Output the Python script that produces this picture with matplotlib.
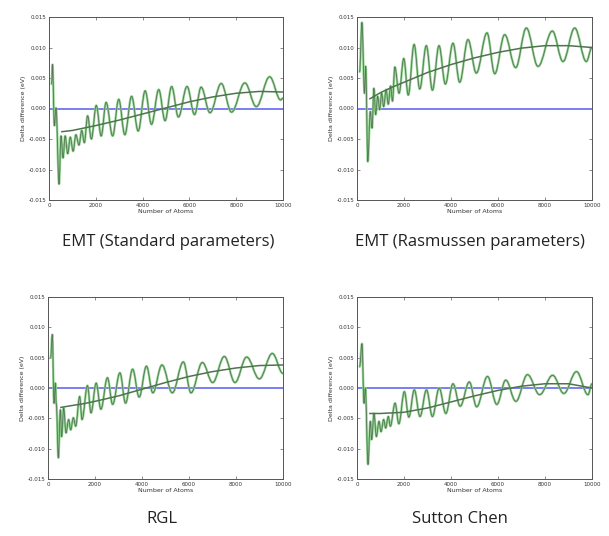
import matplotlib
matplotlib.use("Agg")
import matplotlib.pyplot as plt
from matplotlib.path import Path
from matplotlib.patches import PathPatch

plt.rcParams['axes.unicode_minus'] = False

# ---------------- data (turning points of each curve) ----------------
titles = ["EMT (Standard parameters)", "EMT (Rasmussen parameters)", "RGL", "Sutton Chen"]

x_ticks = [0, 2000, 4000, 6000, 8000, 10000]
y_ticks = [-0.015, -0.010, -0.005, 0.000, 0.005, 0.010, 0.015]

emt_std_x = [110, 150, 230, 300, 430, 513, 600, 690, 800, 910, 1030, 1150, 1280, 1400, 1510,
             1650, 1810, 2020, 2230, 2440, 2720, 2980, 3240, 3530, 3810, 4110, 4380, 4690,
             4960, 5240, 5530, 5900, 6220, 6500, 6880, 7360, 7800, 8370, 8860, 9430, 9900, 10000]
emt_std_y = [0.0040, 0.0072, -0.0028, 0.0001, -0.0124, -0.0045, -0.0081, -0.0045, -0.0074,
             -0.0047, -0.0070, -0.0043, -0.0060, -0.0036, -0.0056, -0.0012, -0.0050, 0.0005,
             -0.0045, 0.0010, -0.0045, 0.0015, -0.0043, 0.0020, -0.0037, 0.0029, -0.0026,
             0.0031, -0.0020, 0.0036, -0.0014, 0.0036, -0.0010, 0.0035, -0.0007, 0.0041,
             -0.0006, 0.0042, 0.0003, 0.0052, 0.0014, 0.0017]

emt_ras_x = [110, 210, 320, 370, 460, 565, 640, 720, 795, 880, 965, 1050, 1135, 1240, 1330,
             1430, 1510, 1610, 1790, 1990, 2180, 2430, 2670, 2950, 3210, 3490, 3760, 4085,
             4370, 4723, 5078, 5532, 5861, 6284, 6752, 7206, 7702, 8312, 8766, 9263, 9759, 10000]
emt_ras_y = [0.0060, 0.0141, 0.0025, 0.0069, -0.0087, -0.0005, -0.0032, 0.0033, -0.0010,
             0.0020, -0.0002, 0.0025, 0.0003, 0.0031, 0.0007, 0.0037, 0.0012, 0.0068, 0.0025,
             0.0082, 0.0022, 0.0105, 0.0032, 0.0103, 0.0030, 0.0103, 0.0040, 0.0107, 0.0043,
             0.0113, 0.0058, 0.0124, 0.0057, 0.0121, 0.0067, 0.0132, 0.0069, 0.0127, 0.0077,
             0.0132, 0.0077, 0.0100]

rgl_x = [110, 184, 255, 312, 355, 440, 525, 582, 667, 766, 879, 965, 1078, 1177, 1348, 1447,
         1680, 1830, 2050, 2250, 2530, 2750, 3060, 3300, 3600, 3880, 4190, 4460, 4850, 5290,
         5759, 6085, 6568, 7007, 7504, 7957, 8454, 8993, 9546, 10000]
rgl_y = [0.0050, 0.0088, -0.0025, 0.0008, -0.0027, -0.0115, -0.0036, -0.0080, -0.0033,
         -0.0074, -0.0052, -0.0069, -0.0049, -0.0063, -0.0014, -0.0052, 0.0004, -0.0041,
         0.0008, -0.0035, 0.0017, -0.0027, 0.0025, -0.0025, 0.0031, -0.0015, 0.0036,
         -0.0008, 0.0038, -0.0008, 0.0043, -0.0008, 0.0042, 0.0009, 0.0052, 0.0009,
         0.0051, 0.0015, 0.0057, 0.0024]

sc_x = [110, 213, 298, 355, 468, 567, 624, 723, 823, 936, 1021, 1135, 1220, 1333, 1418,
        1620, 1780, 2015, 2205, 2440, 2680, 2958, 3210, 3497, 3780, 4085, 4390, 4780, 5092,
        5553, 5950, 6330, 6760, 7255, 7773, 8326, 8800, 9340, 9830, 10000]
sc_y = [0.0035, 0.0073, -0.0025, 0.0000, -0.0126, -0.0055, -0.0085, -0.0042,
        -0.0080, -0.0055, -0.0072, -0.0052, -0.0066, -0.0047, -0.0063, -0.0025, -0.0059,
        -0.0006, -0.0048, -0.0003, -0.0047, -0.0003, -0.0047, 0.0000, -0.0042, 0.0007,
        -0.0030, 0.0010, -0.0031, 0.0019, -0.0027, 0.0013, -0.0022, 0.0022, -0.0011,
        0.0021, -0.0009, 0.0027, -0.0011, 0.0007]

fit_x = [550, 1000, 1500, 2000, 3000, 4000, 5000, 6000, 7000, 8000, 9000, 10000]
emt_std_fit = [-0.0038, -0.0036, -0.0032, -0.0028, -0.0019, -0.0009, 0.0001, 0.0011,
               0.0019, 0.0025, 0.0028, 0.0027]
emt_ras_fit = [0.0016, 0.0026, 0.0035, 0.0043, 0.0059, 0.0072, 0.0083, 0.0092, 0.0099,
               0.0103, 0.0103, 0.0100]
rgl_fit = [-0.0032, -0.0029, -0.0026, -0.0022, -0.0013, -0.0002, 0.0009, 0.0019, 0.0027,
           0.0033, 0.0037, 0.0038]
sc_fit = [-0.0042, -0.0042, -0.0041, -0.0040, -0.0033, -0.0023, -0.0013, -0.0004, 0.0003,
          0.0007, 0.0007, 0.0000]

series = [(emt_std_x, emt_std_y, emt_std_fit),
          (emt_ras_x, emt_ras_y, emt_ras_fit),
          (rgl_x, rgl_y, rgl_fit),
          (sc_x, sc_y, sc_fit)]


def wave_path(xs, ys):
    """Smooth path through turning points (cubic segments, flat at each turning point)."""
    verts = [(xs[0], ys[0])]
    codes = [Path.MOVETO]
    for (x0, y0), (x1, y1) in zip(zip(xs[:-1], ys[:-1]), zip(xs[1:], ys[1:])):
        d = (x1 - x0) * 0.37
        verts += [(x0 + d, y0), (x1 - d, y1), (x1, y1)]
        codes += [Path.CURVE4] * 3
    return Path(verts, codes)


# ---------------- layout ----------------
W, H = 609, 536
fig = plt.figure(figsize=(W / 100, H / 100), dpi=100)
fig.patch.set_facecolor("white")

boxes_px = [(49, 17, 283, 200), (357, 17, 592, 200),
            (48, 297, 283, 479), (357, 297, 592, 479)]
caption_px = [(168, 242), (470, 242), (162, 519), (460, 519)]

for i, (box, (ox, oy, fy)) in enumerate(zip(boxes_px, series)):
    l, t, r, b = box
    ax = fig.add_axes([l / W, 1 - b / H, (r - l) / W, (b - t) / H])
    ax.axhline(0, color="#7a7ff2", lw=1.4, zorder=2)
    p = wave_path(ox, oy)
    ax.add_patch(PathPatch(p, fill=False, edgecolor="#8fd38f", lw=1.7, zorder=3,
                           joinstyle="round", capstyle="round"))
    ax.add_patch(PathPatch(p, fill=False, edgecolor="#557555", lw=0.6, zorder=4,
                           joinstyle="round"))
    ax.plot(fit_x, fy, color="#4d744d", lw=1.1, zorder=5)
    ax.set_xlim(0, 10000)
    ax.set_ylim(-0.015, 0.015)
    ax.set_xticks(x_ticks)
    ax.set_yticks(y_ticks)
    ax.set_yticklabels(["%.3f" % v for v in y_ticks])
    ax.tick_params(direction="in", top=True, right=True, length=2.5, width=0.4,
                   labelsize=4, pad=2, colors="#333333")
    for s in ax.spines.values():
        s.set_color("#555555")
        s.set_linewidth(0.7)
    ax.set_xlabel("Number of Atoms", fontsize=4.5, labelpad=1, color="#333333")
    ax.set_ylabel("Delta difference (eV)", fontsize=4.5, labelpad=2, color="#333333")
    cx, cy = caption_px[i]
    fig.text(cx / W, 1 - cy / H, titles[i], ha="center", va="center",
             fontsize=12, family=["Open Sans", "DejaVu Sans"], color="#222222")

fig.savefig("out.png", dpi=100, facecolor="white")
